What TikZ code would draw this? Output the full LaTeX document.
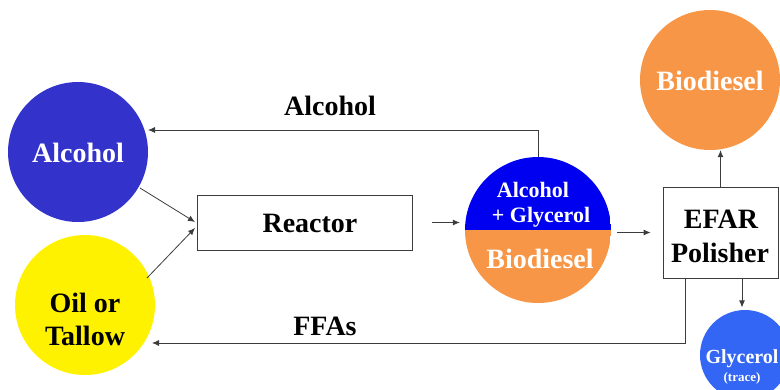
\documentclass[tikz,border=0pt]{standalone}
\usepackage{fontspec}
\setmainfont{Liberation Serif}
\usetikzlibrary{arrows.meta}
\definecolor{alcblue}{RGB}{51,51,204}
\definecolor{mixblue}{RGB}{0,0,240}
\definecolor{bioorange}{RGB}{247,150,70}
\definecolor{glyblue}{RGB}{51,102,245}
\definecolor{linegray}{RGB}{60,60,60}
\tikzset{
  big/.style={font=\bfseries\fontsize{28}{33}\selectfont},
  mid/.style={font=\bfseries\fontsize{22}{24}\selectfont},
  ball/.style={circle, inner sep=0pt},
  boxnode/.style={draw=linegray, line width=0.8pt, fill=white, inner sep=0pt},
  arr/.style={draw=linegray, line width=0.8pt, -{Latex[length=7pt,width=6pt]}},
  ln/.style={draw=linegray, line width=0.8pt},
}
\begin{document}
\begin{tikzpicture}[x=1pt,y=-1pt]
\useasboundingbox (0,0) rectangle (780,389);
% circles
\node[ball, fill=alcblue, minimum size=140pt] (alc) at (78,152) {};
\node[big, text=white, anchor=base] (alct) at (78,162) {Alcohol};
\node[ball, fill=yellow, minimum size=140pt] (oil) at (85,305) {};
\node[big, anchor=base] (oilt1) at (85,312) {Oil or};
\node[big, anchor=base] (oilt2) at (85,345) {Tallow};
% reactor
\node[boxnode, minimum width=215pt, minimum height=55pt] (reactor) at (304.5,222.5) {};
\node[big, anchor=base] (reactort) at (310,232) {Reactor};
% mixture circle
\node[ball, minimum size=146pt, path picture={
  \fill[mixblue] (path picture bounding box.north west) rectangle (path picture bounding box.east);
  \fill[bioorange] (path picture bounding box.west) rectangle (path picture bounding box.south east);
}] (mix) at (538,230) {};
\node[mid, text=white, anchor=base] (mixt1) at (533,197) {Alcohol};
\node[mid, text=white, anchor=base] (mixt2) at (541,222) {+ Glycerol};
\node[big, text=white, anchor=base] (mixt3) at (540,268) {Biodiesel};
% EFAR
\node[boxnode, minimum width=115pt, minimum height=91pt] (efar) at (720.5,232.5) {};
\node[big, anchor=base] (efart1) at (721,228) {EFAR};
\node[big, anchor=base] (efart2) at (720,262) {Polisher};
% biodiesel
\node[ball, fill=bioorange, minimum size=140pt] (bio) at (710,80) {};
\node[big, text=white, anchor=base] (biot) at (710,90) {Biodiesel};
% glycerol
\node[ball, fill=glyblue, minimum size=90pt] (gly) at (745,355) {};
\node[font=\bfseries\fontsize{20}{22}\selectfont, text=white, anchor=base] (glyt1) at (742,363) {Glycerol};
\node[font=\bfseries\fontsize{13}{15}\selectfont, text=white, anchor=base] (glyt2) at (742,381) {(trace)};
% coordinates
\coordinate (a1s) at (140,188);
\coordinate (a1e) at (195,222);
\coordinate (a2s) at (147,278);
\coordinate (a2e) at (195,228);
\coordinate (r1) at (538,130);
\coordinate (r2) at (148,130);
\coordinate (f1) at (685,343);
\coordinate (f2) at (152,343);
% connectors
\draw[arr] (a1s) -- (a1e);
\draw[arr] (a2s) -- (a2e);
\draw[arr, shorten <=20pt, shorten >=5pt] (reactor.east) -- (reactor.east -| mix.west);
\draw[arr, shorten <=6pt, shorten >=12pt] (efar.west -| mix.east) -- (efar.west);
\draw[arr] (mix.north) -- (r1) -- (r2);
\draw[arr] (efar.north) -- (bio.south -| efar.north);
\draw[arr] (efar.south -| gly.north) ++(-3,0) -- ++(0,29);
\draw[arr] (efar.south -| f1) -- (f1) -- (f2);
% labels
\node[big, anchor=base] (lalc) at (330,115) {Alcohol};
\node[big, anchor=base] (lffa) at (325,335) {FFAs};
\end{tikzpicture}
\end{document}
